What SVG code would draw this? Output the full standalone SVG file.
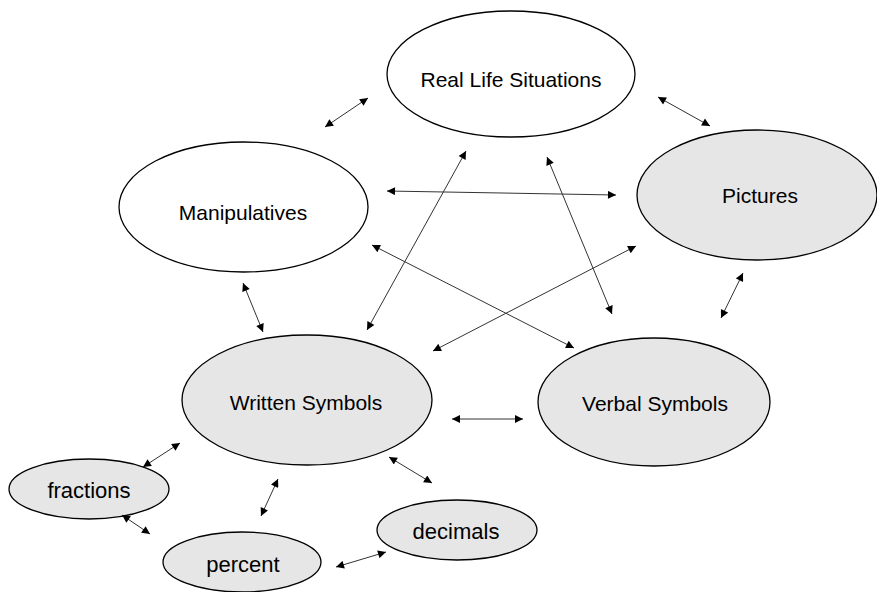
<svg xmlns="http://www.w3.org/2000/svg" width="877" height="592" viewBox="0 0 877 592">
<style>
.n{stroke:#000;stroke-width:1.3}
.w{fill:#fff}
.g{fill:#e7e6e6}
text{font-family:"Liberation Sans",Arial,sans-serif;font-size:21px;fill:#000;text-anchor:middle}
text.s{font-size:22px}
.c line{stroke:#333;stroke-width:1}
</style>
<defs>
<marker id="ah" viewBox="0 0 10 10" refX="10" refY="5" markerWidth="10" markerHeight="8" markerUnits="userSpaceOnUse" orient="auto-start-reverse">
<path d="M0,0L10,5L0,10z" fill="#000"/>
</marker>
</defs>
<rect width="877" height="592" fill="#fff"/>
<g id="rls"><ellipse class="n w" cx="511" cy="74" rx="124" ry="63"/><text x="511" y="87">Real Life Situations</text></g>
<g id="pictures"><ellipse class="n g" cx="757" cy="195" rx="120" ry="65"/><text x="760" y="203">Pictures</text></g>
<g id="manip"><ellipse class="n w" cx="243.5" cy="207" rx="124.5" ry="65"/><text x="243" y="220">Manipulatives</text></g>
<g id="written"><ellipse class="n g" cx="307" cy="400" rx="125" ry="65"/><text x="306" y="410">Written Symbols</text></g>
<g id="verbal"><ellipse class="n g" cx="654" cy="402" rx="116" ry="64"/><text x="655" y="411">Verbal Symbols</text></g>
<g id="fractions"><ellipse class="n g" cx="89" cy="489" rx="80" ry="30"/><text class="s" x="89" y="498">fractions</text></g>
<g id="percent"><ellipse class="n g" cx="242" cy="562" rx="79" ry="30"/><text class="s" x="243" y="572">percent</text></g>
<g id="decimals"><ellipse class="n g" cx="457" cy="530" rx="80" ry="30"/><text class="s" x="456" y="539">decimals</text></g>
<g class="c" id="connectors">
<line x1="325" y1="127" x2="368" y2="98" marker-start="url(#ah)" marker-end="url(#ah)"/>
<line x1="658" y1="97" x2="710" y2="126" marker-start="url(#ah)" marker-end="url(#ah)"/>
<line x1="387" y1="191" x2="616" y2="195" marker-start="url(#ah)" marker-end="url(#ah)"/>
<line x1="372" y1="245" x2="574" y2="348" marker-start="url(#ah)" marker-end="url(#ah)"/>
<line x1="367" y1="330" x2="466" y2="151" marker-start="url(#ah)" marker-end="url(#ah)"/>
<line x1="547" y1="157" x2="612" y2="314" marker-start="url(#ah)" marker-end="url(#ah)"/>
<line x1="433" y1="351" x2="636" y2="246" marker-start="url(#ah)" marker-end="url(#ah)"/>
<line x1="743" y1="273" x2="721" y2="318" marker-start="url(#ah)" marker-end="url(#ah)"/>
<line x1="243" y1="283" x2="263" y2="332" marker-start="url(#ah)" marker-end="url(#ah)"/>
<line x1="452" y1="419" x2="523" y2="419" marker-start="url(#ah)" marker-end="url(#ah)"/>
<line x1="180" y1="443" x2="143" y2="467" marker-start="url(#ah)" marker-end="url(#ah)"/>
<line x1="122" y1="515" x2="150" y2="534" marker-start="url(#ah)" marker-end="url(#ah)"/>
<line x1="278" y1="479" x2="261" y2="516" marker-start="url(#ah)" marker-end="url(#ah)"/>
<line x1="389" y1="457" x2="432" y2="483" marker-start="url(#ah)" marker-end="url(#ah)"/>
<line x1="336" y1="567" x2="386" y2="552" marker-start="url(#ah)" marker-end="url(#ah)"/>
</g>
</svg>
